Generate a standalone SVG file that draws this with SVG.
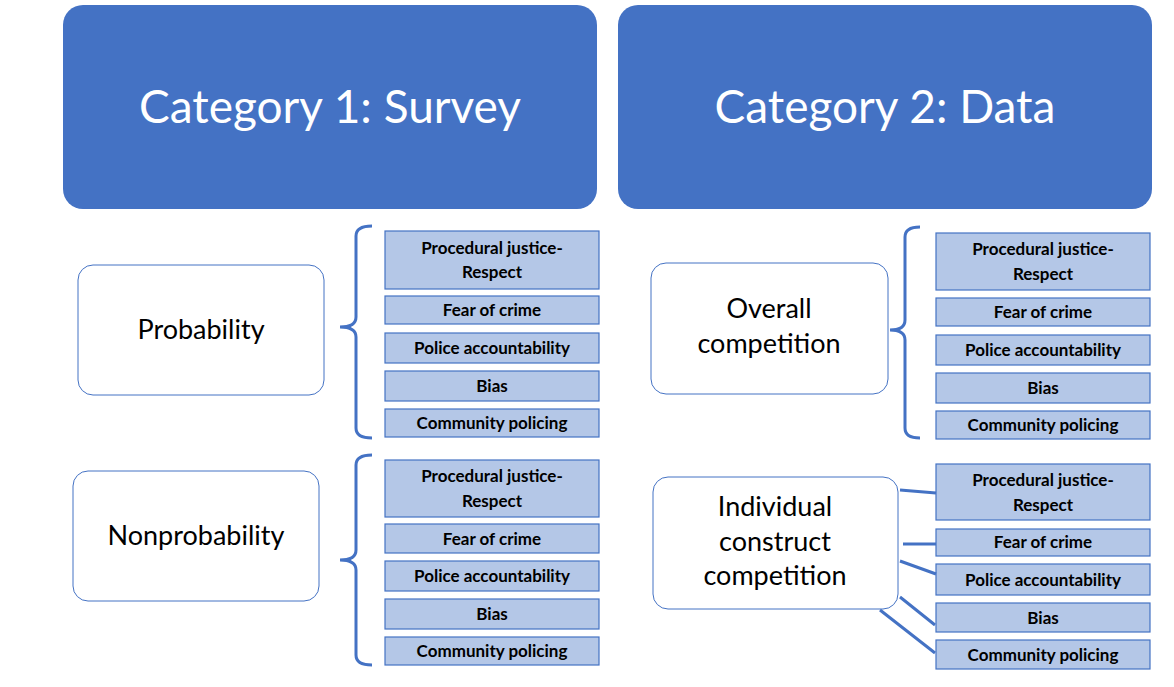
<svg xmlns="http://www.w3.org/2000/svg" width="1174" height="687" viewBox="0 0 1174 687">
<style>
.hd{fill:#4472C4}
.ht{font-family:Lato,"Open Sans",sans-serif;font-size:46px;fill:#fff;text-anchor:middle}
.nd{fill:#fff;stroke:#4472C4;stroke-width:1}
.nt{font-family:Lato,"Open Sans",sans-serif;font-size:27px;fill:#000;text-anchor:middle}
.bx{fill:#B4C7E7;stroke:#4472C4;stroke-width:1.2}
.bt{font-family:Lato,"Open Sans",sans-serif;font-size:17px;font-weight:bold;fill:#000;text-anchor:middle}
.cn{fill:none;stroke:#4472C4;stroke-width:3}
</style>
<g id="header1"><rect class="hd" x="63" y="5" width="534" height="204" rx="20"/><text class="ht" x="330" y="123">Category 1: Survey</text></g>
<g id="header2"><rect class="hd" x="618" y="5" width="534" height="204" rx="20"/><text class="ht" x="885" y="123">Category 2: Data</text></g>
<g id="probability"><rect class="nd" x="78" y="265" width="246" height="130" rx="15"/><text class="nt" x="201" y="339">Probability</text></g>
<g id="nonprobability"><rect class="nd" x="73" y="471" width="246" height="130" rx="15"/><text class="nt" x="196" y="545">Nonprobability</text></g>
<g id="overall"><rect class="nd" x="651" y="263" width="237" height="131" rx="15"/><text class="nt" x="769" y="318">Overall</text><text class="nt" x="769" y="353">competition</text></g>
<g id="individual"><rect class="nd" x="653" y="477" width="245" height="132" rx="15"/><text class="nt" x="775" y="516">Individual</text><text class="nt" x="775" y="551">construct</text><text class="nt" x="775" y="585">competition</text></g>
<g id="l1">
<rect class="bx" x="385" y="231" width="214" height="58"/><text class="bt" x="492" y="254">Procedural justice-</text><text class="bt" x="492" y="278">Respect</text>
<rect class="bx" x="385" y="296" width="214" height="28"/><text class="bt" x="492" y="316">Fear of crime</text>
<rect class="bx" x="385" y="333" width="214" height="30"/><text class="bt" x="492" y="354">Police accountability</text>
<rect class="bx" x="385" y="371" width="214" height="30"/><text class="bt" x="492" y="392">Bias</text>
<rect class="bx" x="385" y="409" width="214" height="28"/><text class="bt" x="492" y="429">Community policing</text>
</g>
<g id="l2">
<rect class="bx" x="385" y="460" width="214" height="57"/><text class="bt" x="492" y="482">Procedural justice-</text><text class="bt" x="492" y="507">Respect</text>
<rect class="bx" x="385" y="524" width="214" height="29"/><text class="bt" x="492" y="545">Fear of crime</text>
<rect class="bx" x="385" y="561" width="214" height="30"/><text class="bt" x="492" y="582">Police accountability</text>
<rect class="bx" x="385" y="599" width="214" height="30"/><text class="bt" x="492" y="620">Bias</text>
<rect class="bx" x="385" y="637" width="214" height="28"/><text class="bt" x="492" y="657">Community policing</text>
</g>
<g id="r1">
<rect class="bx" x="936" y="233" width="214" height="57"/><text class="bt" x="1043" y="255">Procedural justice-</text><text class="bt" x="1043" y="280">Respect</text>
<rect class="bx" x="936" y="298" width="214" height="28"/><text class="bt" x="1043" y="318">Fear of crime</text>
<rect class="bx" x="936" y="335" width="214" height="30"/><text class="bt" x="1043" y="356">Police accountability</text>
<rect class="bx" x="936" y="373" width="214" height="30"/><text class="bt" x="1043" y="394">Bias</text>
<rect class="bx" x="936" y="411" width="214" height="28"/><text class="bt" x="1043" y="431">Community policing</text>
</g>
<g id="r2">
<rect class="bx" x="936" y="464" width="214" height="56"/><text class="bt" x="1043" y="486">Procedural justice-</text><text class="bt" x="1043" y="511">Respect</text>
<rect class="bx" x="936" y="529" width="214" height="27"/><text class="bt" x="1043" y="548">Fear of crime</text>
<rect class="bx" x="936" y="564" width="214" height="31"/><text class="bt" x="1043" y="586">Police accountability</text>
<rect class="bx" x="936" y="603" width="214" height="29"/><text class="bt" x="1043" y="624">Bias</text>
<rect class="bx" x="936" y="640" width="214" height="29"/><text class="bt" x="1043" y="661">Community policing</text>
</g>
<g id="connectors">
<path class="cn" d="M372 226 Q356 226 356 236 L356 317 Q356 327 340 327 Q356 327 356 337 L356 428 Q356 438 372 438"/>
<path class="cn" d="M372 455 Q356 455 356 465 L356 550 Q356 560 340 560 Q356 560 356 570 L356 655 Q356 665 372 665"/>
<path class="cn" d="M920 227 Q905 227 905 237 L905 320 Q905 330 890 330 Q905 330 905 340 L905 428 Q905 438 920 438"/>
<path class="cn" d="M900 490 L936 493 M903 544 L936 544 M900 561 L936 574 M900 597 L935 625 M880 610 L935 653"/>
</g>
</svg>
